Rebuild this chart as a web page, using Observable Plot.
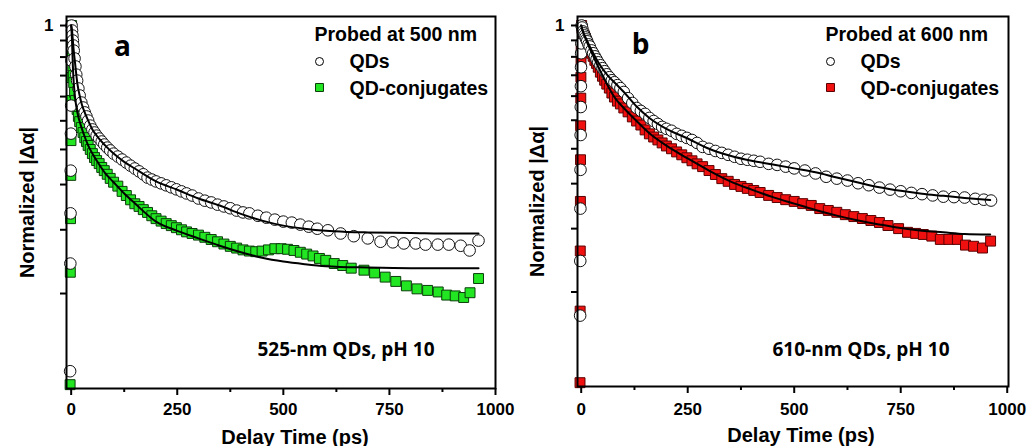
<!DOCTYPE html>
<html>
<head>
<meta charset="utf-8">
<script src="https://cdn.jsdelivr.net/npm/d3@7"></script>
<script src="https://cdn.jsdelivr.net/npm/@observablehq/plot@0.6"></script>
<style>
  html, body { margin: 0; padding: 0; background: white; }
  #wrap { display: flex; width: 1030px; height: 446px; }
</style>
</head>
<body>
<div id="wrap"></div>
<script>
// ---------- axis ticks ----------
const xMajorTicks = [0, 250, 500, 750, 1000];
const xMinorTicks = [125, 375, 625, 875];
const yTicks = [1, 0.9, 0.8, 0.7, 0.6, 0.5, 0.4, 0.3, 0.2, 0.1];

// ---------- Panel a (probed at 500 nm) ----------
const qdA_t = [-2.5,-2,-1.5,-1,-0.5,0,0.5,
  1,2,3,4,5,6,8,10,12,14,17,20,24,28,32,36,40,45,50,55,60,66,72,78,85,92,100,110,120,130,
  140,150,160,170,180,190,200,212,224,236,248,260,272,285,300,315,330,345,360,375,390,405,420,440,
  460,480,500,520,540,560,580,605,635,666,699,729,758,784,812,835,864,890,918,939,960];
const qdA_v = [0.022,0.142,0.233,0.337,0.453,0.561,0.78,
  1.000,0.966,0.932,0.900,0.869,0.838,0.792,0.748,0.705,0.675,0.637,0.605,0.574,0.553,0.533,0.517,0.501,0.482,0.468,0.457,
  0.446,0.436,0.426,0.416,0.406,0.397,0.387,0.378,0.369,0.360,0.351,0.343,0.335,0.327,0.318,0.313,0.308,0.303,0.298,0.293,
  0.288,0.283,0.278,0.273,0.266,0.261,0.257,0.252,0.248,0.244,0.239,0.235,0.233,0.228,0.224,0.220,0.216,0.214,0.210,0.206,
  0.202,0.199,0.193,0.188,0.184,0.178,0.177,0.175,0.175,0.173,0.173,0.173,0.171,0.163,0.180];

const cjA_t = [-2.5,-2,-1.5,-1,-0.5,0,0.5,
  1,2,3,4,5,6,8,10,12,14,17,20,24,28,32,36,40,45,50,55,60,66,72,78,85,92,100,110,120,130,
  140,150,160,170,180,190,200,212,224,236,248,260,272,285,300,315,330,345,360,375,390,405,420,435,
  450,465,480,495,510,525,540,555,570,585,600,620,640,660,690,715,740,765,790,815,840,865,885,905,925,940,960];
const cjA_v = [0.012,0.129,0.222,0.324,0.429,0.583,0.690,
  1.000,0.900,0.809,0.748,0.700,0.665,0.619,0.583,0.561,0.545,0.517,0.497,0.475,0.457,0.439,0.426,0.413,0.400,0.387,0.375,
  0.366,0.357,0.346,0.337,0.327,0.316,0.306,0.296,0.283,0.273,0.263,0.254,0.248,0.241,0.235,0.228,0.222,0.217,0.212,0.208,
  0.204,0.200,0.196,0.193,0.190,0.186,0.182,0.178,0.174,0.170,0.167,0.164,0.162,0.161,0.162,0.164,0.166,0.166,0.165,0.163,
  0.160,0.157,0.154,0.150,0.147,0.142,0.139,0.135,0.132,0.128,0.122,0.116,0.110,0.106,0.104,0.102,0.098,0.097,0.095,0.101,0.120];

const fitQdA_t = [0,2,4,6,8,10,15,20,25,30,40,50,60,80,100,125,150,200,250,300,350,400,450,500,550,600,650,700,800,900,960];
const fitQdA_v = [1.0,0.966,0.900,0.838,0.792,0.748,0.655,0.605,0.567,0.541,0.501,0.468,0.446,0.413,0.387,0.362,0.343,0.308,0.287,0.266,
  0.250,0.232,0.218,0.208,0.202,0.198,0.196,0.195,0.194,0.193,0.193];
const fitCjA_t = [0,2,4,6,8,10,15,20,30,40,50,60,80,100,125,150,200,250,300,350,400,450,500,550,600,700,800,960];
const fitCjA_v = [1.0,0.90,0.75,0.665,0.619,0.583,0.53,0.497,0.45,0.413,0.387,0.366,0.33,0.306,0.278,0.255,0.216,0.198,0.184,0.171,
  0.160,0.151,0.145,0.141,0.138,0.136,0.135,0.135];

// ---------- Panel b (probed at 600 nm) ----------
const qdB_t = [-2.5,-2.2,-1.9,-1.6,-1.3,-1,-0.7,-0.4,-0.1,0.2,
  1,2,4,6,8,10,12,14,17,20,24,28,32,36,40,45,50,55,60,66,72,78,85,92,100,110,120,130,140,150,
  160,170,180,190,200,212,224,236,248,260,272,285,300,315,330,345,360,375,390,405,420,440,460,480,500,525,550,575,600,625,
  650,675,700,725,750,775,800,825,850,875,900,925,945,962];
const qdB_v = [0.072,0.144,0.241,0.337,0.446,0.553,0.646,0.742,0.821,0.881,
  1.000,0.986,0.959,0.946,0.932,0.919,0.906,0.894,0.875,0.862,0.838,0.821,0.803,0.786,0.769,0.753,0.737,0.721,0.705,0.690,
  0.675,0.665,0.651,0.637,0.619,0.591,0.570,0.549,0.537,0.525,0.509,0.497,0.486,0.475,0.468,0.461,0.450,0.443,0.436,0.429,
  0.419,0.406,0.400,0.393,0.387,0.381,0.375,0.369,0.366,0.363,0.360,0.354,0.351,0.346,0.341,0.335,0.327,0.318,0.313,0.308,
  0.301,0.296,0.290,0.285,0.281,0.277,0.274,0.271,0.268,0.267,0.266,0.263,0.261,0.259];

const cjB_t = [-2.8,-2.5,-2.2,-1.9,-1.6,-1.3,-1,-0.7,-0.4,-0.1,
  1,2,4,6,8,10,12,14,17,20,24,28,32,36,40,45,50,55,60,66,72,78,85,92,100,110,120,130,140,150,
  160,170,180,190,200,212,224,236,248,260,272,285,300,315,330,345,360,375,390,405,420,440,460,480,500,520,540,560,580,600,
  620,640,660,680,700,720,745,766,785,803,823,843,863,883,902,921,942,961];
const cjB_v = [0.012,0.077,0.160,0.257,0.366,0.479,0.591,0.690,0.769,0.850,
  1.000,0.979,0.953,0.939,0.926,0.913,0.894,0.881,0.862,0.844,0.821,0.803,0.780,0.763,0.742,0.716,0.695,0.675,0.656,0.637,
  0.614,0.596,0.578,0.566,0.549,0.533,0.513,0.497,0.482,0.464,0.450,0.439,0.429,0.419,0.409,0.400,0.390,0.381,0.372,0.363,
  0.354,0.346,0.335,0.324,0.313,0.306,0.298,0.293,0.288,0.283,0.278,0.271,0.266,0.261,0.257,0.252,0.248,0.241,0.237,0.233,
  0.228,0.224,0.220,0.216,0.212,0.206,0.200,0.193,0.191,0.189,0.186,0.180,0.180,0.180,0.170,0.168,0.165,0.177];

const fitQdB_t = [0,5,10,20,30,40,60,80,100,130,160,200,250,300,350,400,450,500,550,600,650,700,750,800,850,900,960];
const fitQdB_v = [1.0,0.95,0.919,0.862,0.812,0.769,0.705,0.66,0.619,0.555,0.509,0.468,0.434,0.400,0.378,0.363,0.352,0.341,0.330,0.316,
  0.303,0.291,0.282,0.275,0.270,0.265,0.260];
const fitCjB_t = [0,5,10,20,30,40,50,60,80,100,130,160,200,250,300,350,400,450,500,550,600,650,700,750,800,850,900,960];
const fitCjB_v = [1.0,0.95,0.913,0.85,0.795,0.745,0.70,0.658,0.59,0.549,0.497,0.452,0.41,0.37,0.335,0.306,0.285,0.267,0.252,0.238,
  0.226,0.216,0.208,0.201,0.196,0.193,0.190,0.189];

const rows = (t, v) => t.map((d, i) => ({t: d, v: v[i]}));

const labelFont = "'Liberation Sans', Arial, sans-serif";
const noteFont = "'Open Sans', sans-serif";

function label(text, o) {
  return Plot.text([text], {textAnchor: "middle", lineAnchor: "middle", fontWeight: "bold", fontFamily: labelFont, ...o});
}

function panel(o) {
  return Plot.plot({
    width: 515,
    height: 446,
    marginLeft: o.ml,
    marginRight: o.mr,
    marginTop: 16,
    marginBottom: o.mb,
    style: {fontFamily: labelFont, fontSize: "17px", fontWeight: "bold", color: "black", background: "white", overflow: "visible"},
    x: {domain: o.xDomain},
    y: {type: "symlog", constant: 0.1, domain: [0.0093, 1.065]},
    marks: [
      Plot.dot(rows(o.cjT, o.cjV), {x: "t", y: "v", symbol: "square", r: 5.6, fill: o.color, stroke: o.edge, strokeWidth: 1}),
      Plot.dot(rows(o.qdT, o.qdV), {x: "t", y: "v", r: 5.8, fill: "white", stroke: "#111", strokeWidth: 1}),
      Plot.line(rows(o.fqT, o.fqV), {x: "t", y: "v", curve: "monotone-x", stroke: "black", strokeWidth: 2}),
      Plot.line(rows(o.fcT, o.fcV), {x: "t", y: "v", curve: "monotone-x", stroke: "black", strokeWidth: 2}),
      Plot.axisX({ticks: xMajorTicks, tickSize: 7, tickPadding: o.xPad, strokeWidth: 2, label: null, tickFormat: d => String(d)}),
      Plot.axisX({ticks: xMinorTicks, tickSize: 4, strokeWidth: 2, label: null, tickFormat: () => ""}),
      Plot.axisY({ticks: yTicks, tickSize: 6, tickPadding: 7, strokeWidth: 2, label: null, tickFormat: d => d === 1 ? "1" : ""}),
      Plot.frame({stroke: "black", strokeWidth: 2}),
      label("Normalized |Δα|", {frameAnchor: "left", dx: o.yLabelDx, rotate: -90, fontSize: 20}),
      label("Delay Time (ps)", {frameAnchor: "bottom", dx: o.xLabelDx, dy: o.xLabelDy, fontSize: 20}),
      label(o.letter, {frameAnchor: "top-left", dx: o.letterDx, dy: o.letterDy, fontSize: 28, fontFamily: noteFont}),
      label(o.probe, {frameAnchor: "top-left", dx: 248, dy: 18, textAnchor: "start", fontSize: 19.5}),
      Plot.dot([0], {frameAnchor: "top-left", dx: 253, dy: 45, r: 4, fill: "white", stroke: "black", strokeWidth: 1}),
      label("QDs", {frameAnchor: "top-left", dx: 283, dy: 45, textAnchor: "start", fontSize: 19.5}),
      Plot.dot([0], {frameAnchor: "top-left", dx: 253, dy: 71, symbol: "square", r: 4.5, fill: o.color, stroke: o.edge, strokeWidth: 1}),
      label("QD-conjugates", {frameAnchor: "top-left", dx: 283, dy: 72, textAnchor: "start", fontSize: 19.5}),
      label(o.note, {frameAnchor: "top-left", dx: o.noteDx, dy: 333, textAnchor: "start", fontSize: 19, fontFamily: noteFont})
    ]
  });
}

const wrap = document.getElementById("wrap");
wrap.append(panel({
  ml: 66, mr: 20, mb: 58, xDomain: [-11, 1000], xPad: 7,
  qdT: qdA_t, qdV: qdA_v, cjT: cjA_t, cjV: cjA_v,
  fqT: fitQdA_t, fqV: fitQdA_v, fcT: fitCjA_t, fcV: fitCjA_v,
  color: "#22e622", edge: "#0b3d0b",
  yLabelDx: -39, xLabelDx: 14, xLabelDy: 49,
  letter: "a", letterDx: 56, letterDy: 31,
  probe: "Probed at 500 nm", note: "525-nm QDs, pH 10", noteDx: 191
}));
wrap.append(panel({
  ml: 62, mr: 22, mb: 60, xDomain: [-8.7, 1003], xPad: 9,
  qdT: qdB_t, qdV: qdB_v, cjT: cjB_t, cjV: cjB_v,
  fqT: fitQdB_t, fqV: fitQdB_v, fcT: fitCjB_t, fcV: fitCjB_v,
  color: "#f01010", edge: "#5a0000",
  yLabelDx: -40, xLabelDx: 8, xLabelDy: 49,
  letter: "b", letterDx: 63, letterDy: 29,
  probe: "Probed at 600 nm", note: "610-nm QDs, pH 10", noteDx: 195
}));
</script>
</body>
</html>
